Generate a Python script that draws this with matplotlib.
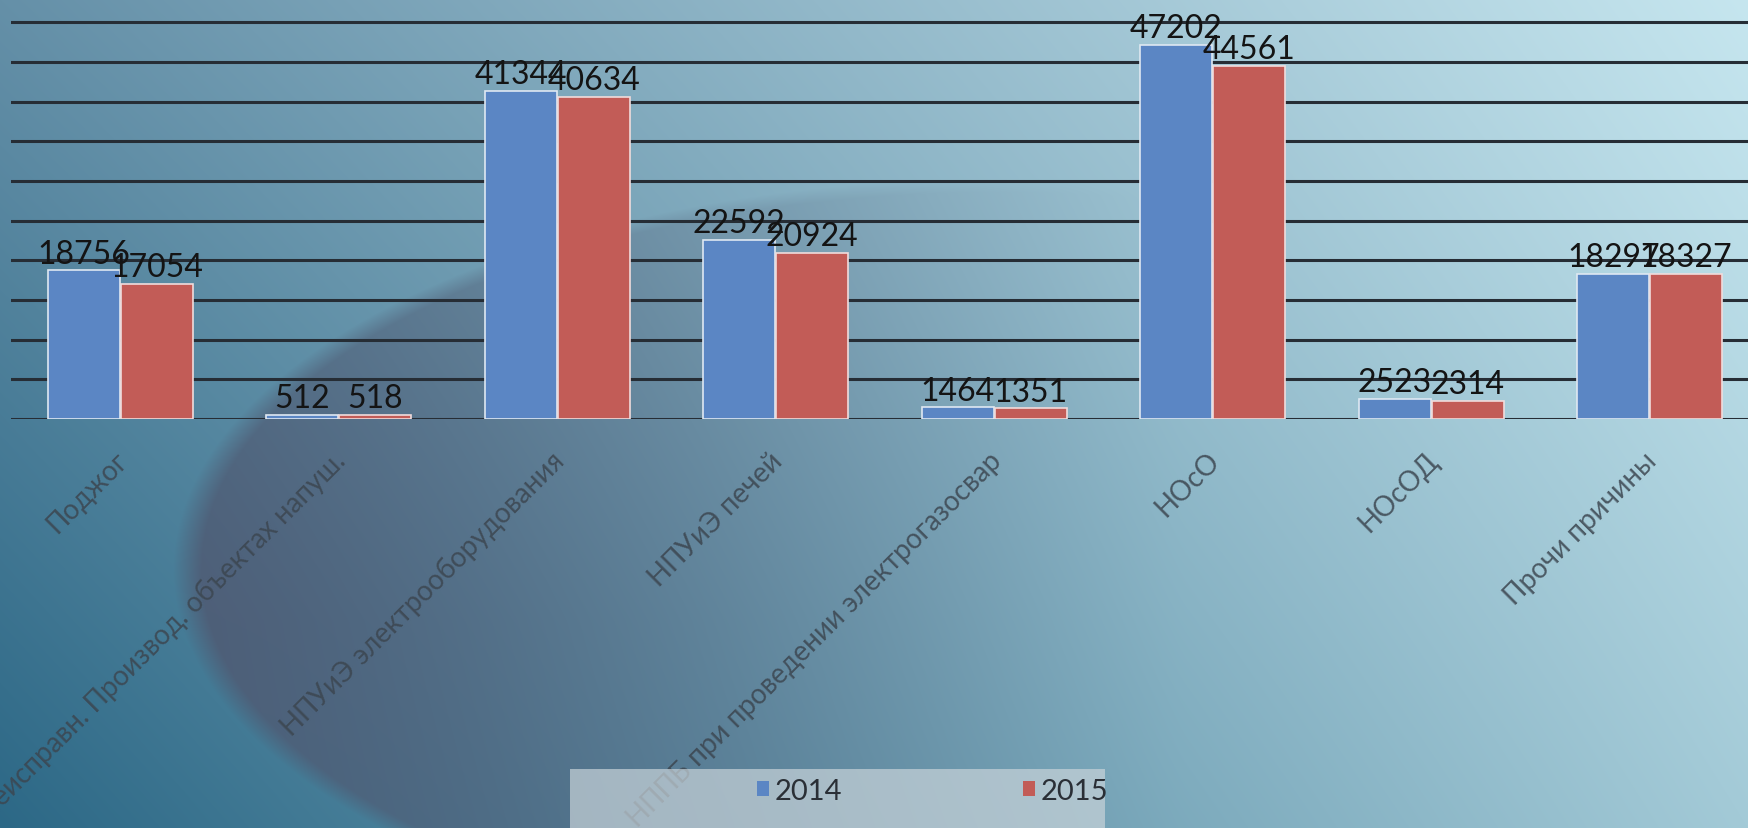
import numpy as np
import matplotlib

matplotlib.use("Agg")
import matplotlib.pyplot as plt
import matplotlib.transforms as mtrans
from matplotlib.patches import Rectangle, Patch

# данные
kategorii = [
    "Поджог",
    "Неисправн. Производ. объектах напуш.",
    "НПУиЭ электрооборудования",
    "НПУиЭ печей",
    "НППБ при проведении электрогазосвар",
    "НОсО",
    "НОсОД",
    "Прочи причины",
]
god_2014 = [18756, 512, 41344, 22592, 1464, 47202, 2523, 18297]
god_2015 = [17054, 518, 40634, 20924, 1351, 44561, 2314, 18327]
setka = list(range(0, 50001, 5000))

W, H = 1748, 829
fig = plt.figure(figsize=(W / 100, H / 100), dpi=100)


# фон: градиент + тёмный эллипс (декор)
def hex2rgb(h):
    h = h.lstrip("#")
    return np.array([int(h[i:i + 2], 16) / 255 for i in (0, 2, 4)])


X, Y = np.meshgrid(np.arange(W), np.arange(H))
u = X / W
v = Y / H
tl, tr = hex2rgb("#6590a8"), hex2rgb("#c6e6ef")
bl, br = hex2rgb("#2c6886"), hex2rgb("#a3cad7")
fon = ((1 - u) * (1 - v))[..., None] * tl + (u * (1 - v))[..., None] * tr \
    + ((1 - u) * v)[..., None] * bl + (u * v)[..., None] * br

d = np.sqrt(((X - 1000) / 815.0) ** 2 + ((Y - 570) / 385.0) ** 2)
vnutri = np.clip((1.015 - d) / 0.035, 0, 1)
sila = np.clip(1 - (X - 185) / 1000.0, 0, 1) ** 1.3
sila = sila * np.clip(0.55 + 0.6 * v, 0, 1)
temn = hex2rgb("#4f5a73")
a = (vnutri * sila * 0.88)[..., None]
fon = fon * (1 - a) + temn * a

bg = fig.add_axes([0, 0, 1, 1], zorder=-5)
bg.imshow(np.clip(fon, 0, 1), aspect="auto", interpolation="bilinear")
bg.axis("off")

# основной график
ax = fig.add_axes([11 / W, (H - 420) / H, 1 - 11 / W, 420 / H])
ax.set_facecolor("none")
x = np.arange(len(kategorii))
shir = 0.33
sin_c, kr_c = "#5b86c4", "#c25c57"
b1 = ax.bar(x - 0.167, god_2014, shir, color=sin_c, edgecolor="#dfe8f2",
            linewidth=1.2, zorder=3)
b2 = ax.bar(x + 0.167, god_2015, shir, color=kr_c, edgecolor="#f0dcdc",
            linewidth=1.2, zorder=3)

for yy in setka:
    ax.axhline(yy, color="#262d35", linewidth=2.2, zorder=1)

shrift_n = ["Lato", "DejaVu Sans"]
for bars, vals in ((b1, god_2014), (b2, god_2015)):
    for b, val in zip(bars, vals):
        ax.text(b.get_x() + b.get_width() / 2, val + 200, str(val),
                ha="center", va="bottom", fontsize=23, color="#141414",
                family=shrift_n, zorder=5)

ax.set_xlim(-0.5, 7.45)
ax.set_ylim(0, 52950)
ax.set_yticks([])
for s in ax.spines.values():
    s.set_visible(False)
ax.set_xticks(x)
ax.set_xticklabels(kategorii, rotation=45, ha="right", fontsize=20,
                   color="#3c4650", family=shrift_n)
ax.tick_params(axis="x", length=0, pad=20)
sdvig = mtrans.ScaledTranslation(0.12, 0, fig.dpi_scale_trans)
for t in ax.get_xticklabels():
    t.set_alpha(0.85)
    t.set_transform(t.get_transform() + sdvig)

# легенда
fig.patches.append(Rectangle((570 / W, 0), 535 / W, 59 / H,
                             transform=fig.transFigure, facecolor="#c8d3d9",
                             alpha=0.7, edgecolor="none", zorder=0))
ruchki = [Patch(facecolor=sin_c, label="2014"), Patch(facecolor=kr_c, label="2015")]
fig.legend(handles=ruchki, loc="center left",
           bbox_to_anchor=(731 / W, 1 - 792 / H), ncol=2, frameon=False,
           handlelength=0.4, handleheight=0.4, handletextpad=0.2,
           columnspacing=6.2, prop={"family": shrift_n, "size": 21},
           labelcolor="#2a2f36")

fig.savefig("out.png", dpi=100)
